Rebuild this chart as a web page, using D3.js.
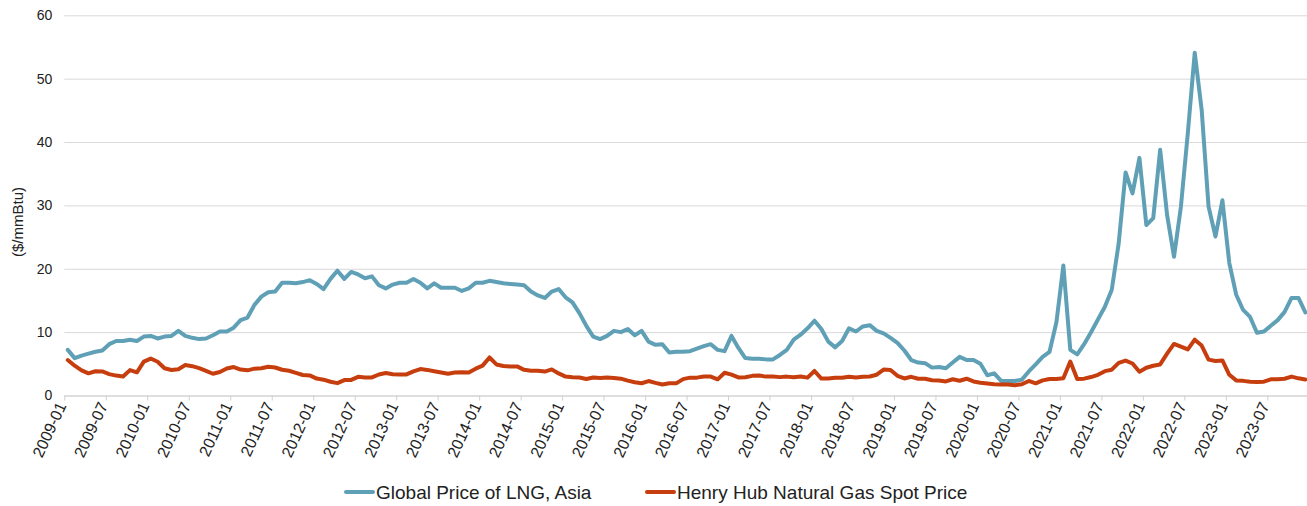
<!DOCTYPE html>
<html>
<head>
<meta charset="utf-8">
<script src="https://cdn.jsdelivr.net/npm/d3@7"></script>
<style>
  body { margin: 0; background: #fff; }
  svg { display: block; font-family: "Liberation Sans", Arial, sans-serif; }
</style>
</head>
<body>
<div id="chart"></div>
<script>
// monthly values, 2009-01 .. 2023-12 ($/mmBtu), one row per year
var lngAsia = [
  7.2, 5.9, 6.3, 6.6, 6.9, 7.1, 8.1, 8.6, 8.6, 8.8, 8.6, 9.3,        // 2009
  9.4, 9.0, 9.3, 9.4, 10.2, 9.4, 9.1, 8.9, 9.0, 9.5, 10.1, 10.1,     // 2010
  10.7, 11.9, 12.3, 14.3, 15.6, 16.3, 16.4, 17.8, 17.8, 17.7, 17.9, 18.2, // 2011
  17.6, 16.8, 18.4, 19.7, 18.4, 19.5, 19.1, 18.5, 18.8, 17.4, 16.9, 17.5, // 2012
  17.8, 17.8, 18.4, 17.8, 16.9, 17.7, 17.0, 17.0, 17.0, 16.5, 16.9, 17.8, // 2013
  17.8, 18.1, 17.9, 17.7, 17.6, 17.5, 17.4, 16.4, 15.8, 15.4, 16.4, 16.8, // 2014
  15.5, 14.7, 13.0, 11.0, 9.3, 8.9, 9.4, 10.2, 10.0, 10.5, 9.5, 10.2,    // 2015
  8.5, 8.0, 8.1, 6.8, 6.9, 6.9, 7.0, 7.4, 7.8, 8.1, 7.2, 7.0,           // 2016
  9.4, 7.5, 5.9, 5.8, 5.8, 5.7, 5.7, 6.4, 7.2, 8.8, 9.6, 10.6,          // 2017
  11.8, 10.5, 8.5, 7.6, 8.6, 10.6, 10.1, 10.9, 11.1, 10.2, 9.8, 9.1,    // 2018
  8.3, 7.1, 5.6, 5.2, 5.1, 4.4, 4.5, 4.3, 5.2, 6.1, 5.6, 5.6,           // 2019
  5.0, 3.2, 3.5, 2.3, 2.3, 2.3, 2.5, 3.8, 4.9, 6.1, 6.9, 11.6,          // 2020
  20.5, 7.2, 6.5, 8.1, 10.0, 12.0, 14.0, 16.7, 24.0, 35.2, 31.9, 37.5,  // 2021
  26.9, 28.0, 38.8, 28.5, 21.9, 29.8, 41.4, 54.1, 45.1, 29.8, 25.1, 30.8, // 2022
  20.9, 15.9, 13.5, 12.4, 9.9, 10.1, 11.0, 11.9, 13.2, 15.4, 15.4, 13.1  // 2023
];

var henryHub = [
  5.6, 4.7, 3.96, 3.5, 3.83, 3.8, 3.38, 3.14, 2.99, 4.01, 3.66, 5.35,   // 2009
  5.83, 5.32, 4.29, 4.03, 4.14, 4.8, 4.63, 4.32, 3.89, 3.43, 3.71, 4.25, // 2010
  4.49, 4.09, 3.97, 4.24, 4.31, 4.54, 4.42, 4.06, 3.9, 3.57, 3.24, 3.17, // 2011
  2.67, 2.5, 2.17, 1.95, 2.43, 2.46, 2.95, 2.84, 2.85, 3.32, 3.54, 3.34, // 2012
  3.33, 3.33, 3.81, 4.17, 4.04, 3.83, 3.62, 3.43, 3.62, 3.68, 3.64, 4.24, // 2013
  4.71, 6.0, 4.9, 4.66, 4.58, 4.59, 4.05, 3.91, 3.92, 3.78, 4.12, 3.48,  // 2014
  2.99, 2.87, 2.83, 2.61, 2.85, 2.78, 2.84, 2.77, 2.66, 2.34, 2.09, 1.93, // 2015
  2.28, 1.99, 1.73, 1.92, 1.92, 2.59, 2.82, 2.82, 2.99, 2.98, 2.55, 3.59, // 2016
  3.3, 2.85, 2.88, 3.1, 3.15, 2.98, 2.98, 2.9, 2.98, 2.88, 3.01, 2.82,   // 2017
  3.87, 2.67, 2.69, 2.8, 2.8, 2.97, 2.83, 2.96, 3.0, 3.28, 4.09, 4.04,   // 2018
  3.11, 2.69, 2.95, 2.65, 2.64, 2.4, 2.37, 2.22, 2.56, 2.33, 2.65, 2.22, // 2019
  2.02, 1.91, 1.79, 1.74, 1.75, 1.63, 1.77, 2.3, 1.92, 2.39, 2.61, 2.59, // 2020
  2.71, 5.35, 2.62, 2.66, 2.91, 3.26, 3.84, 4.07, 5.16, 5.51, 5.05, 3.76, // 2021
  4.38, 4.69, 4.9, 6.6, 8.14, 7.7, 7.28, 8.81, 7.88, 5.66, 5.45, 5.53,  // 2022
  3.27, 2.38, 2.31, 2.16, 2.15, 2.18, 2.55, 2.58, 2.64, 2.98, 2.71, 2.52 // 2023
];

var tickLabels = [
  "2009-01","2009-07","2010-01","2010-07","2011-01","2011-07","2012-01","2012-07",
  "2013-01","2013-07","2014-01","2014-07","2015-01","2015-07","2016-01","2016-07",
  "2017-01","2017-07","2018-01","2018-07","2019-01","2019-07","2020-01","2020-07",
  "2021-01","2021-07","2022-01","2022-07","2023-01","2023-07"
];
var yTicks = [0, 10, 20, 30, 40, 50, 60];

var series = [
  {name: "Global Price of LNG, Asia", values: lngAsia, color: "#60a0b6"},
  {name: "Henry Hub Natural Gas Spot Price", values: henryHub, color: "#c73e0e"}
];

var width = 1307, height = 506;
var left = 64.3, monthW = 6.914;
var nMonths = lngAsia.length;

var svg = d3.select("#chart").append("svg")
  .attr("width", width).attr("height", height);

var x = d3.scaleLinear().domain([0, nMonths]).range([left, left + nMonths * monthW]);
var y = d3.scaleLinear().domain([0, 60]).range([395.5, 15.3]);

// gridlines + y labels
var yAxis = svg.append("g")
  .attr("transform", "translate(" + left + ",0)")
  .call(d3.axisLeft(y).tickValues(yTicks).tickSize(-(width - left)).tickPadding(12));
yAxis.select(".domain").remove();
yAxis.selectAll(".tick line").attr("stroke", "#d9d9d9").attr("stroke-width", 1);
yAxis.selectAll(".tick text").attr("fill", "#222").style("font-size", "14px");

// x axis: ticks on category boundaries, every 6 months
var xAxis = svg.append("g")
  .attr("transform", "translate(0," + y(0) + ")")
  .call(d3.axisBottom(x)
    .tickValues(d3.range(0, nMonths, 6))
    .tickSize(5)
    .tickFormat(function(d) { return tickLabels[d / 6]; }));
xAxis.select(".domain").attr("stroke", "#d0d0d0").attr("d", "M" + left + ",0.5H" + width);
xAxis.selectAll(".tick line").attr("stroke", "#d0d0d0");
xAxis.selectAll(".tick text")
  .attr("fill", "#222")
  .style("font-size", "16px")
  .attr("x", 0).attr("y", 0).attr("dy", 0)
  .attr("text-anchor", "end")
  .attr("transform", "translate(2,10) rotate(-65)");

// y title
svg.append("text")
  .attr("transform", "translate(23,222) rotate(-90)")
  .attr("text-anchor", "middle")
  .attr("fill", "#222")
  .style("font-size", "15px")
  .text("($/mmBtu)");

// lines, points in the middle of each month
var line = d3.line()
  .x(function(d, i) { return x(i + 0.5); })
  .y(function(d) { return y(d); });

svg.selectAll(".series")
  .data(series)
  .enter().append("path")
    .attr("class", "series")
    .attr("d", function(s) { return line(s.values); })
    .attr("fill", "none")
    .attr("stroke", function(s) { return s.color; })
    .attr("stroke-width", 4)
    .attr("stroke-linejoin", "round")
    .attr("stroke-linecap", "round");

// legend
var legendPos = [345, 646];
var legend = svg.selectAll(".legend")
  .data(series)
  .enter().append("g")
    .attr("class", "legend")
    .attr("transform", function(s, i) { return "translate(" + legendPos[i] + ",492)"; });
legend.append("line")
  .attr("x1", 1).attr("x2", 28)
  .attr("stroke", function(s) { return s.color; })
  .attr("stroke-width", 4)
  .attr("stroke-linecap", "round");
legend.append("text")
  .attr("x", 31).attr("y", 7)
  .attr("fill", "#222")
  .style("font-size", "19px")
  .text(function(s) { return s.name; });
</script>
</body>
</html>
